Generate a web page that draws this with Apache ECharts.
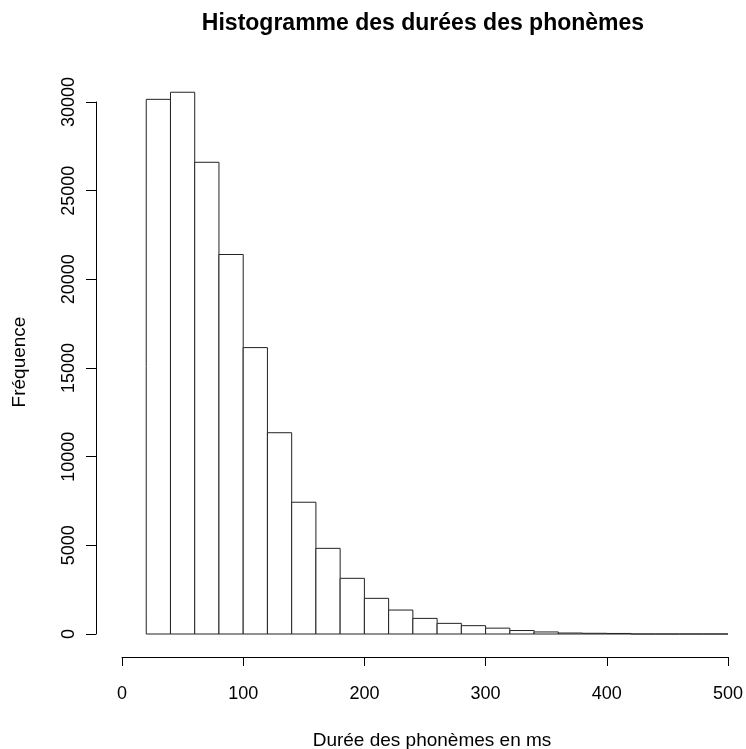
<!DOCTYPE html>
<html>
<head>
<meta charset="utf-8">
<script src="https://cdn.jsdelivr.net/npm/echarts@6/dist/echarts.min.js"></script>
<style>html,body{margin:0;padding:0;background:#fff}#c{width:746px;height:749px}</style>
</head>
<body>
<div id="c"></div>
<script>
const binStarts = [20,40,60,80,100,120,140,160,180,200,220,240,260,280,300,320,340,360,380,400,420,440,460,480];
const binWidth = 20;
const counts = [30150,30550,26600,21400,16150,11350,7430,4830,3140,2010,1350,880,600,470,330,195,115,55,40,30,0,0,0,0];
const xTicks = [0,100,200,300,400,500];
const yTicks = [0,5000,10000,15000,20000,25000,30000];
const titleText = 'Histogramme des durées des phonèmes';
const xLabel = 'Durée des phonèmes en ms';
const yLabel = 'Fréquence';

const data = binStarts.map((s, i) => [s, s + binWidth, counts[i]]);
const FONT = '"Liberation Sans", Arial, sans-serif';

const chart = echarts.init(document.getElementById('c'));
chart.setOption({
  animation: false,
  backgroundColor: '#fff',
  graphic: [
    {type: 'text', x: 423, y: 24, style: {text: titleText, font: 'bold 23px ' + FONT, fill: '#000', align: 'center', verticalAlign: 'middle'}},
    {type: 'text', x: 432, y: 741, style: {text: xLabel, font: '19px ' + FONT, fill: '#000', align: 'center', verticalAlign: 'middle'}},
    {type: 'text', x: 20, y: 362, rotation: Math.PI / 2, style: {text: yLabel, font: '19px ' + FONT, fill: '#000', align: 'center', verticalAlign: 'middle'}}
  ],
  grid: {left: 122, right: 17, top: 102, bottom: 115, containLabel: false},
  xAxis: {
    type: 'value', min: xTicks[0], max: xTicks[xTicks.length - 1], interval: 100,
    offset: 23,
    axisLine: {show: true, onZero: false, lineStyle: {color: '#000', width: 1}},
    axisTick: {show: true, length: 9, lineStyle: {color: '#000'}},
    splitLine: {show: false},
    axisLabel: {fontFamily: FONT, fontSize: 18, color: '#000', margin: 28, formatter: v => String(v)}
  },
  yAxis: {
    type: 'value', min: yTicks[0], max: yTicks[yTicks.length - 1], interval: 5000,
    offset: 26,
    axisLine: {show: true, onZero: false, lineStyle: {color: '#000', width: 1}},
    axisTick: {show: true, length: 10, lineStyle: {color: '#000'}},
    splitLine: {show: false},
    axisLabel: {fontFamily: FONT, fontSize: 18, color: '#000', rotate: 90, margin: 18, formatter: v => String(v)}
  },
  series: [{
    type: 'custom',
    clip: false,
    data: data,
    renderItem: function (params, api) {
      const p0 = api.coord([api.value(0), api.value(2)]);
      const p1 = api.coord([api.value(1), 0]);
      return {
        type: 'rect',
        shape: {x: p0[0], y: p0[1], width: p1[0] - p0[0], height: p1[1] - p0[1]},
        style: {fill: '#fff', stroke: '#222', lineWidth: 1}
      };
    }
  }]
});
</script>
</body>
</html>
